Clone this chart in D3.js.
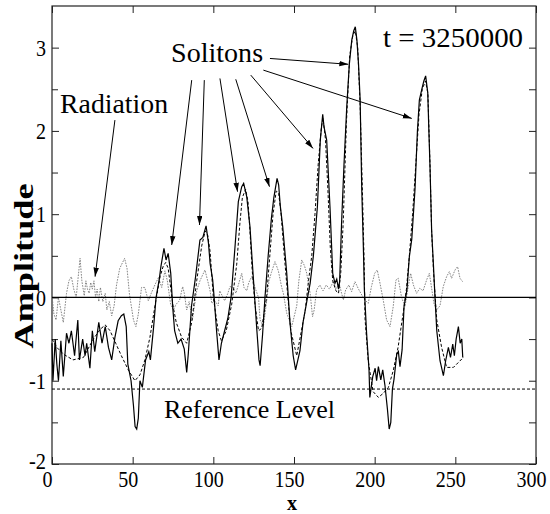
<!DOCTYPE html>
<html>
<head>
<meta charset="utf-8">
<title>Solitons and radiation</title>
<style>
    body { margin: 0; background: #fff; }
    svg text { font-family: "Liberation Serif", "Times New Roman", serif; fill: #000; }
    .field { fill: none; stroke: #000; stroke-width: 1.2; }
    .fit { fill: none; stroke: #000; stroke-width: 1; stroke-dasharray: 3,2; }
    .radiation { fill: none; stroke: #777; stroke-width: 0.9; stroke-dasharray: 1.6,1.2; }
    .arrow { stroke: #000; stroke-width: 1; }
</style>
<script src="https://d3js.org/d3.v7.min.js"></script>
</head>
<body>
<svg width="550" height="514"></svg>
<script>

// axis ticks
var xTicks = [0, 50, 100, 150, 200, 250, 300];
var yTicks = [-2, -1, 0, 1, 2, 3];
var yHalfTicks = [-1.5, -0.5, 0.5, 1.5, 2.5];
var referenceLevel = -1.1;

// full field (solid line), [x, amplitude]
var fieldPts = [
    [0,-0.55],[0.6,-1.0],[2,-0.5],[3,-0.8],[4,-1.0],[5.5,-0.52],[7,-0.95],[9,-0.43],[10.5,-0.55],[12,-0.4],
    [14,-0.7],[16,-0.27],[17,-0.75],[19,-0.5],[20.5,-0.7],[21.5,-0.55],[23.5,-0.85],[25,-0.4],[26.5,-0.65],[29,-0.3],
    [31,-0.55],[33,-0.35],[35,-0.6],[37,-0.75],[39,-0.48],[41,-0.28],[43,-0.22],[44.5,-0.2],[46,-0.35],[47,-0.8],
    [49,-1.0],[50.5,-1.3],[51.5,-1.55],[52.5,-1.58],[53.5,-1.45],[54.5,-1.0],[56,-1.08],[58,-0.75],[60,-0.65],[61,-0.75],
    [63,-0.35],[64.5,0],[66.5,0.22],[67.5,0.37],[69.4,0.59],[70.7,0.45],[72,0.53],[73.6,0.29],[74.8,-0.11],[76,-0.4],
    [78,-0.55],[80,-0.5],[82,-0.62],[83.5,-0.9],[84.5,-0.67],[86.5,-0.1],[89,0.25],[91.7,0.69],[93.5,0.72],[95.5,0.86],
    [97,0.65],[98,0.41],[99.6,0.21],[100.5,0],[102,-0.4],[103.5,-0.75],[105,-0.55],[107,-0.4],[109,-0.25],[111,0],
    [113.4,0.6],[115.5,1.15],[117.6,1.33],[118.8,1.37],[120.7,1.21],[122.7,0.85],[124.6,0.29],[127,-0.4],[128.3,-0.75],[129,-0.82],
    [130.5,-0.45],[132,0],[134,0.5],[136,0.95],[137.5,1.2],[139.5,1.43],[140.5,1.35],[141.5,1.1],[143,0.85],[145.5,0.29],
    [147.5,-0.3],[149.5,-0.7],[151,-0.87],[153.7,-0.64],[155.6,-0.3],[158,-0.04],[160,0.17],[162,0.5],[164.5,1.09],[166.3,1.89],
    [167.8,2.2],[168.6,2.05],[170.25,1.89],[172.3,1.09],[174,0.29],[175.4,0.17],[176.5,0.22],[177.6,0.1],[178.3,0.2],[179.5,0.9],
    [181,1.6],[182.7,2.29],[184.3,2.8],[185.8,3.09],[187,3.2],[188,3.25],[189,3.09],[190,2.8],[191,2.37],[192,1.3],
    [193,0.6],[193.6,0.1],[195,-0.43],[196.5,-0.87],[197,-1.2],[198.8,-0.95],[200.3,-0.85],[201.2,-1.0],[202.3,-0.83],[203.8,-0.99],
    [205,-0.87],[206.4,-1.06],[207.9,-1.34],[209,-1.58],[210,-1.5],[211,-1.1],[212,-0.98],[213.7,-0.68],[214.7,-0.65],[215.7,-0.83],
    [217,-0.63],[218.2,-0.11],[220,0.09],[221.5,0.49],[223,0.7],[225,1.3],[226.5,2.0],[227.7,2.37],[229.2,2.5],[230.5,2.6],
    [231.6,2.66],[232.9,2.46],[233.6,2.0],[234.3,1.57],[235.3,0.81],[236.4,0.4],[237.4,0.0],[238.5,-0.4],[240.5,-0.76],[242.6,-0.94],
    [244,-0.76],[245.7,-0.6],[247,-0.72],[248.4,-0.56],[249.4,-0.7],[250.5,-0.5],[251.9,-0.35],[253,-0.55],[254,-0.5],[254.6,-0.72]
];

// soliton fit (dashed line)
var fitPts = [
    [0,-0.5],[3,-0.6],[7,-0.68],[13,-0.75],[19.5,-0.72],[25.6,-0.5],[30,-0.38],[33,-0.33],[36,-0.4],[39.5,-0.55],
    [43,-0.7],[47.3,-0.87],[51.4,-1.0],[54.5,-0.93],[57.6,-0.75],[60.7,-0.48],[64,-0.08],[67,0.25],[69,0.38],[70.5,0.42],
    [72,0.35],[73,0.2],[75,-0.1],[77,-0.3],[80.4,-0.48],[83.5,-0.55],[86.6,-0.3],[89.7,0.2],[92.8,0.62],[95,0.8],
    [96.5,0.75],[98,0.55],[100,0],[103,-0.4],[105,-0.52],[108,-0.4],[111.4,-0.08],[114.5,0.4],[116.5,0.9],[118,1.2],
    [120,1.3],[121.5,1.15],[122.7,0.8],[124,0.35],[125.8,-0.08],[128,-0.4],[130,-0.37],[133,0],[135,0.5],[137,1.0],
    [139,1.28],[140.5,1.25],[142,1.0],[144,0.5],[146,0.05],[148,-0.4],[151.7,-0.7],[154.6,-0.4],[157,-0.15],[159,0.2],
    [161,0.5],[163,1.0],[165,1.6],[167,2.05],[168,2.15],[169.5,1.9],[171,1.3],[172.5,0.6],[174,0.2],[176,0.08],
    [177.6,0.05],[179,0.3],[180.5,0.9],[182.5,2.1],[184.5,2.9],[186.5,3.15],[188,3.2],[189.5,3.0],[191,2.3],[192.5,1.2],
    [193.5,0.4],[194,-0.25],[196,-0.76],[199,-1.13],[202.3,-1.2],[205.4,-1.15],[208.5,-1.08],[211.5,-0.88],[214.5,-0.6],[217.6,-0.2],
    [219.7,0.1],[221.5,0.5],[223.5,1.0],[225.5,1.6],[227.5,2.2],[229.5,2.5],[231.5,2.6],[233,2.45],[234.3,1.6],[235.3,0.8],
    [236.5,0.3],[238.5,-0.27],[241.5,-0.6],[244.6,-0.84],[248.8,-0.84],[251.9,-0.78],[255,-0.72]
];

// radiation (grey dotted line)
var radiationPts = [
    [0,0.02],[1.2,-0.2],[2.5,-0.27],[4,0],[5,-0.1],[7,-0.3],[9,0.05],[10.5,0.2],[12,0.25],[13.5,0.1],
    [15,0.0],[16,0.2],[17.4,0.47],[18.5,0.2],[20,0.02],[21,0.2],[22,0.1],[23,0.05],[24,0.18],[25,0.1],
    [26,0.2],[27,0.0],[28,0.1],[29,-0.05],[30,0.12],[31.5,-0.05],[33,0.05],[34,-0.15],[35.5,-0.05],[37,-0.22],
    [38.5,-0.1],[40,0.15],[42,0.35],[45,0.47],[46.5,0.35],[48,0.04],[50.5,-0.27],[52,-0.35],[53.5,-0.2],[55.5,0.12],
    [57.5,0.12],[59.7,-0.04],[61.5,0.05],[64,0.16],[66,0.24],[68,0.12],[70,0.32],[71.5,0.2],[73.5,-0.08],[75.2,-0.15],
    [77,-0.08],[79,-0.04],[81,0.13],[82,0.05],[83.5,-0.15],[85,-0.05],[87,-0.27],[89.7,0.08],[91.7,0.2],[94.8,0.33],
    [96.5,0.2],[98,0.08],[99,-0.07],[101,-0.04],[103,-0.1],[104,0.08],[106,0.0],[107,-0.04],[109,0.05],[110.3,0.13],
    [112.4,0.12],[114,0.05],[115.5,0.15],[117.6,0.29],[119,0.12],[120.7,0.08],[122,0.18],[123.8,0.25],[125.8,0.12],[128,0.0],
    [129,-0.27],[131,-0.35],[133,-0.05],[134.5,0.2],[136,0.3],[138.2,0.43],[140.3,0.32],[142.4,0.12],[143.4,0.05],[145.5,-0.19],
    [148.6,-0.35],[151.7,-0.1],[153,0.2],[154.8,0.45],[156.5,0.38],[157.9,0.29],[158.9,0.17],[160,0.05],[161.5,-0.23],[162.5,-0.15],
    [164,0.09],[166,0.15],[168,0.08],[170,0.15],[172,0.1],[174.4,0.19],[176,0.1],[178,0.17],[179.5,0.05],[180.6,-0.03],
    [182,0.09],[184,0.15],[185.7,0.07],[187.8,0.19],[190,0.1],[192,0.03],[194,-0.03],[196,-0.07],[198,0.13],[200,0.29],
    [201.6,0.33],[203,0.2],[205.3,-0.03],[207.4,-0.27],[209.5,-0.35],[211.5,-0.11],[213.2,0.21],[214.6,0.23],[216.7,0.0],[218.8,-0.11],
    [220.8,0.13],[222.3,0.29],[224,0.15],[226,0.05],[228,0.11],[230,0.08],[232.2,0.21],[233.9,0.29],[235,0.15],[236.7,-0.07],
    [238.4,-0.15],[240.5,-0.1],[242.5,0.13],[244.6,0.25],[246.3,0.31],[247.7,0.23],[249.8,0.33],[251.4,0.37],[252.9,0.23],[254.5,0.19]
];

// annotation arrows in data units: [x0, y0, x1, y1]
var solitonArrows = [
    [86.6,2.61,74.2,0.63],[94.4,2.61,91.4,0.87],[104.1,2.63,115.0,1.27],[113.9,2.62,134.8,1.33],
    [123.2,2.67,161.8,1.79],[135.1,2.87,183.7,2.80],[131.0,2.73,223.0,2.15]
];
var radiationArrow = [39.0,2.13,26.7,0.25];

var svg = d3.select("svg"),
    margin = {top: 6, right: 14, bottom: 50, left: 52},
    width = +svg.attr("width") - margin.left - margin.right,
    height = +svg.attr("height") - margin.top - margin.bottom;

var x = d3.scaleLinear().domain([0, 300]).range([margin.left, margin.left + width]);
var y = d3.scaleLinear().domain([-2, 3.5]).range([margin.top + height, margin.top]);

function label(d) { return String(d); }
// tick labels in the picture are narrow, so squeeze them
function labelWidth(d) {
    var s = String(d);
    return s.replace("-", "").length * 10 + (s.indexOf("-") >= 0 ? 7 : 0);
}

svg.append("defs").append("marker")
    .attr("id", "head")
    .attr("markerUnits", "userSpaceOnUse")
    .attr("markerWidth", 10).attr("markerHeight", 6)
    .attr("refX", 9).attr("refY", 2.75)
    .attr("orient", "auto")
  .append("path")
    .attr("d", "M0,0L9,2.75L0,5.5Z")
    .attr("fill", "#000");

// axes, ticks pointing inwards
var gx = svg.append("g")
    .attr("transform", "translate(0," + (margin.top + height) + ")")
    .call(d3.axisBottom(x).tickValues(xTicks).tickSize(-7).tickPadding(6).tickFormat(label));
svg.append("g")
    .attr("transform", "translate(0," + margin.top + ")")
    .call(d3.axisTop(x).tickValues(xTicks).tickSize(-7).tickFormat(""));
var gy = svg.append("g")
    .attr("transform", "translate(" + margin.left + ",0)")
    .call(d3.axisLeft(y).tickValues(yTicks).tickSize(-7).tickPadding(6).tickFormat(label));
svg.append("g")
    .attr("transform", "translate(" + margin.left + ",0)")
    .call(d3.axisLeft(y).tickValues(yHalfTicks).tickSize(-6).tickFormat(""));
svg.append("g")
    .attr("transform", "translate(" + (margin.left + width) + ",0)")
    .call(d3.axisRight(y).tickValues(yTicks.concat(yHalfTicks)).tickSize(-7).tickFormat(""));

svg.selectAll(".domain").remove();
svg.selectAll(".tick line").attr("stroke", "#222");
[gx, gy].forEach(function(g) {
    g.attr("font-size", 24);
    g.selectAll("text")
        .attr("textLength", labelWidth)
        .attr("lengthAdjust", "spacingAndGlyphs");
});
// x labels sit a little left of their ticks, the lowest y label a bit raised
gx.selectAll("text").attr("dx", -5);
gy.selectAll("text").filter(function(d) { return d === -2; }).attr("dy", "0.2em");

// frame
svg.append("rect")
    .attr("x", x(0)).attr("y", y(3.5))
    .attr("width", x(300) - x(0)).attr("height", y(-2) - y(3.5))
    .attr("fill", "none").attr("stroke", "#222").attr("stroke-width", 1.2);

var line = d3.line()
    .x(function(d) { return x(d[0]); })
    .y(function(d) { return y(d[1]); });

svg.append("path").datum(radiationPts).attr("class", "radiation").attr("d", line);
svg.append("path").datum(fitPts).attr("class", "fit").attr("d", line);
svg.append("path").datum(fieldPts).attr("class", "field").attr("d", line);

// zero line and reference level
svg.append("line")
    .attr("x1", x(0)).attr("x2", x(300)).attr("y1", y(0)).attr("y2", y(0))
    .attr("stroke", "#000").attr("stroke-width", 1.3);
svg.append("line")
    .attr("x1", x(0)).attr("x2", x(300)).attr("y1", y(referenceLevel)).attr("y2", y(referenceLevel))
    .attr("stroke", "#000").attr("stroke-width", 1).attr("stroke-dasharray", "3,2");

// arrows
svg.selectAll(".arrow")
    .data(solitonArrows.concat([radiationArrow]))
    .enter().append("line")
    .attr("class", "arrow")
    .attr("x1", function(d) { return x(d[0]); })
    .attr("y1", function(d) { return y(d[1]); })
    .attr("x2", function(d) { return x(d[2]); })
    .attr("y2", function(d) { return y(d[3]); })
    .attr("marker-end", "url(#head)");

// annotation texts
function note(txt, xv, yv, size, len, bold) {
    return svg.append("text")
        .attr("x", x(xv)).attr("y", y(yv))
        .attr("font-size", size)
        .attr("font-weight", bold ? "bold" : "normal")
        .attr("textLength", len)
        .attr("lengthAdjust", "spacingAndGlyphs")
        .text(txt);
}
note("Solitons", 73.8, 2.83, 27, 92);
note("Radiation", 5, 2.215, 27, 108);
note("t = 3250000", 205.2, 3.01, 28, 140);
note("Reference Level", 69.4, -1.45, 26, 171);

// axis titles
svg.append("text")
    .attr("x", (x(0) + x(300)) / 2 - 2).attr("y", 510)
    .attr("text-anchor", "middle")
    .attr("font-size", 20).attr("font-weight", "bold")
    .text("x");
svg.append("text")
    .attr("transform", "translate(33,266) rotate(-90)")
    .attr("text-anchor", "middle")
    .attr("font-size", 28).attr("font-weight", "bold")
    .attr("textLength", 165).attr("lengthAdjust", "spacingAndGlyphs")
    .text("Amplitude");

</script>
</body>
</html>
